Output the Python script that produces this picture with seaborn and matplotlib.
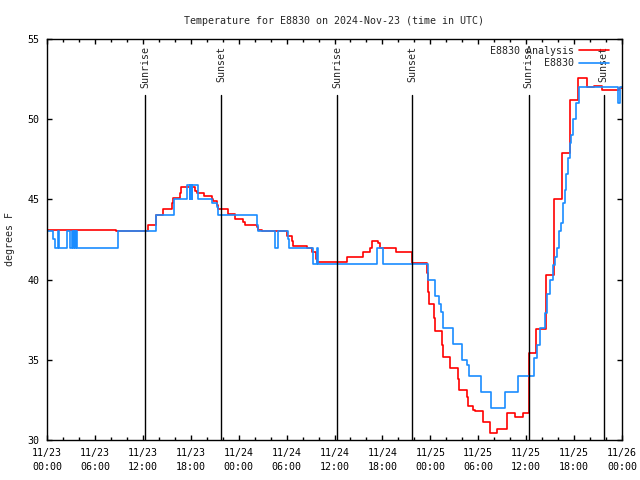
import pandas as pd
import matplotlib
matplotlib.use('Agg')
import matplotlib.pyplot as plt
import matplotlib.dates as mdates
import matplotlib.transforms as mtransforms
import seaborn as sns

# ─── data (hours after 2024-11-23 00:00 UTC, degrees F) ────────
START = pd.Timestamp("2024-11-23 00:00")

analysis_hours = [0, 8.6, 12.65, 13.65, 14.5, 15.65, 15.8, 16.65, 16.8, 18.5,
                  18.8, 19.65, 20.65, 20.8, 21.3, 21.4, 22.65, 23.5, 24.5, 24.8,
                  26.3, 26.4, 26.9, 30.05, 30.7, 30.8, 32.55, 33.2, 33.7, 33.8,
                  37.55, 39.55, 40.45, 40.7, 41.45, 41.7, 43.7, 45.7, 47.6, 47.7,
                  47.85, 48.45, 48.6, 49.45, 49.6, 50.45, 51.45, 51.6, 52.6, 52.7,
                  53.35, 53.6, 54.6, 55.5, 56.35, 57.6, 58.6, 59.6, 60.35, 61.2,
                  62.5, 63.5, 64.5, 65.5, 66.5, 67.6, 68.5, 69.5, 71.6, 72]
analysis_temp = [43.1, 43.0, 43.4, 44.05, 44.4, 44.8, 45.1, 45.4, 45.8, 45.5,
                 45.4, 45.2, 45.05, 44.9, 44.65, 44.4, 44.1, 43.8, 43.6, 43.4,
                 43.3, 43.1, 43.0, 42.7, 42.4, 42.1, 41.95, 41.75, 41.3, 41.1,
                 41.4, 41.7, 42.0, 42.4, 42.3, 42.0, 41.7, 41.05, 40.4, 39.2,
                 38.5, 37.6, 36.8, 35.9, 35.15, 34.5, 33.8, 33.1, 32.7, 32.1,
                 31.9, 31.8, 31.1, 30.45, 30.7, 31.7, 31.45, 31.7, 35.4, 36.9,
                 40.3, 45.0, 47.9, 51.2, 52.55, 52.0, 52.07, 51.8, 51.96, 51.96]

station_hours = [0, 0.79, 1.04, 1.4, 1.45, 2.47, 2.88, 3.13, 3.3, 3.4,
                 3.55, 3.65, 3.8, 8.93, 13.6, 15.9, 17.5, 17.85, 17.95, 18.1,
                 18.2, 18.85, 20.65, 21.3, 21.4, 26.25, 26.45, 28.55, 28.95, 30.2,
                 30.35, 33.3, 33.8, 33.9, 41.3, 42.05, 47.7, 48.6, 49.1, 49.35,
                 49.6, 50.9, 51.95, 52.65, 52.9, 54.3, 55.55, 57.35, 58.95, 61.0,
                 61.3, 61.7, 62.3, 62.55, 63.0, 63.4, 63.6, 63.8, 64.1, 64.35,
                 64.65, 64.85, 65.05, 65.25, 65.45, 65.6, 65.9, 66.2, 66.65, 71.5,
                 71.7, 72]
station_temp = [43.0, 42.5, 42.0, 43.0, 42.0, 43.0, 42.0, 43.0, 42.0, 43.0,
                42.0, 43.0, 42.0, 43.0, 44.0, 45.0, 45.9, 45.0, 45.9, 45.0,
                45.9, 45.0, 44.8, 44.5, 44.0, 43.4, 43.0, 42.0, 43.0, 42.5,
                42.0, 41.0, 42.0, 41.0, 42.0, 41.0, 40.0, 39.0, 38.5, 38.0,
                37.0, 36.0, 35.0, 34.7, 34.0, 33.0, 32.0, 33.0, 34.0, 35.1,
                35.9, 37.0, 37.9, 39.1, 40.0, 40.9, 41.4, 42.0, 43.0, 43.5,
                44.8, 45.6, 46.6, 47.6, 48.5, 49.0, 50.0, 51.0, 52.0, 51.0,
                52.0, 52.0]

sunrise_hours = [12.27, 36.3, 60.33]
sunset_hours = [21.78, 45.7, 69.7]

# ─── style ───────────────────────────────────────────────
sns.set_style("ticks")
plt.rcParams['font.family'] = ['DejaVu Sans Mono']
plt.rcParams['font.size'] = 7.2

def to_time(hours):
    return START + pd.to_timedelta(hours, unit="h")

fig = plt.figure(figsize=(6.4, 4.8), dpi=100)
ax = fig.add_axes([47 / 640, 40 / 480, 575 / 640, 401 / 480])

ana = pd.DataFrame({"time": to_time(analysis_hours), "temp": analysis_temp})
sta = pd.DataFrame({"time": to_time(station_hours), "temp": station_temp})

sns.lineplot(data=ana, x="time", y="temp", ax=ax, color="#ff0000", lw=1.2,
             drawstyle="steps-post", estimator=None, sort=False, label="E8830 Analysis")
sns.lineplot(data=sta, x="time", y="temp", ax=ax, color="#1a8cff", lw=1.2,
             drawstyle="steps-post", estimator=None, sort=False, label="E8830")

# sunrise / sunset markers
trans = mtransforms.blended_transform_factory(ax.transData, ax.transAxes)
for name, hrs in (("Sunrise", sunrise_hours), ("Sunset", sunset_hours)):
    for t in to_time(hrs):
        ax.axvline(t, ymin=0, ymax=0.86, color="black", lw=1)
        ax.text(t, 0.982, name, rotation=90, ha="center", va="top", transform=trans)

ax.set_xlim(START, START + pd.Timedelta(hours=72))
ax.set_ylim(30, 55)
ax.set_yticks(range(30, 56, 5))
ax.xaxis.set_major_locator(mdates.HourLocator(byhour=range(0, 24, 6)))
ax.xaxis.set_minor_locator(mdates.HourLocator(byhour=range(0, 24, 2)))
ax.xaxis.set_major_formatter(mdates.DateFormatter("%m/%d\n%H:%M"))
ax.tick_params(which="both", direction="in", top=True, right=True, colors="black")
ax.tick_params(which="major", length=3.8, width=1, pad=5.5)
ax.tick_params(which="minor", length=2.2, width=1)
for lbl in ax.get_xticklabels():
    lbl.set_linespacing(1.55)
for s in ax.spines.values():
    s.set_color("black")
    s.set_linewidth(1)

ax.set_xlabel("")
ax.set_ylabel("degrees F", labelpad=9, fontsize=7.2)
ax.set_title("Temperature for E8830 on 2024-Nov-23 (time in UTC)", pad=11, fontsize=7.2)

ax.legend(loc="upper right", frameon=False, markerfirst=False, handlelength=3,
          handletextpad=0.5, labelspacing=0.25, borderaxespad=0.3,
          bbox_to_anchor=(0.99, 1.0))

fig.savefig("out.png", dpi=100)
